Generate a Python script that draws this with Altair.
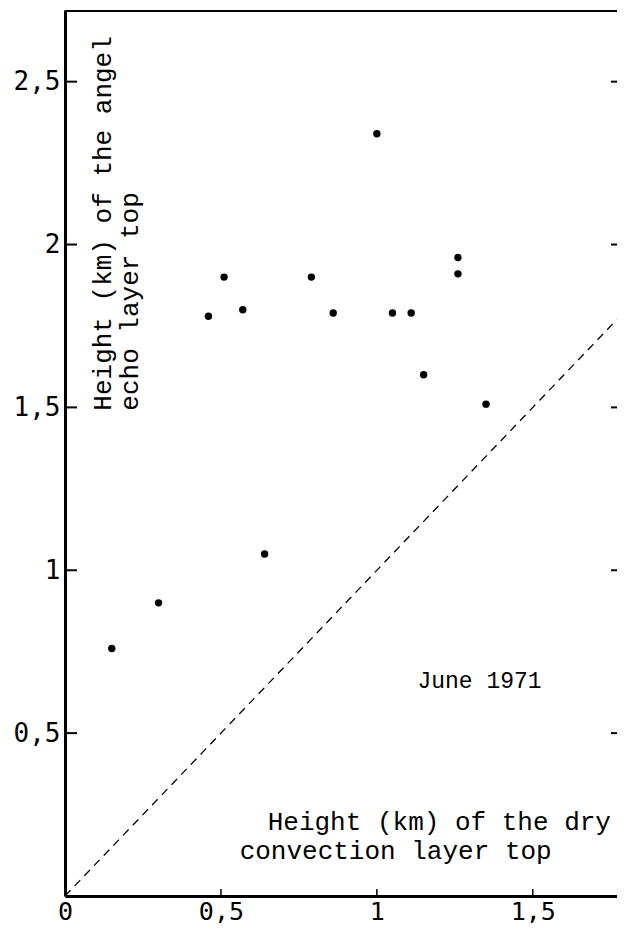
import altair as alt
import pandas as pd

# Data (km)
dry_top = [0.15, 0.30, 0.46, 0.51, 0.57, 0.64, 0.79, 0.86, 1.00, 1.05, 1.11, 1.15, 1.26, 1.26, 1.35]
echo_top = [0.76, 0.90, 1.78, 1.90, 1.80, 1.05, 1.90, 1.79, 2.34, 1.79, 1.79, 1.60, 1.96, 1.91, 1.51]

x_ticks = [0.5, 1.0, 1.5]
y_ticks = [0.5, 1.0, 1.5, 2.0, 2.5]
diag = [0.0, 1.77]

X_DOMAIN = [0, 1.77]
Y_DOMAIN = [0, 2.72]
W, H = 552, 886

xs = alt.Scale(domain=X_DOMAIN, nice=False, zero=False)
ys = alt.Scale(domain=Y_DOMAIN, nice=False, zero=False)

LABEL_FONT = "DejaVu Sans Mono"
TEXT_FONT = "Liberation Mono"
label_expr = "replace(format(datum.value, '~g'), '.', ',')"

pts = pd.DataFrame({"dry": dry_top, "echo": echo_top})

points = alt.Chart(pts).mark_circle(size=55, color="black", opacity=1).encode(
    x=alt.X("dry:Q", scale=xs, title=None,
            axis=alt.Axis(values=[0] + x_ticks, labelExpr=label_expr, ticks=False, grid=False,
                          domainColor="black", domainWidth=3, labelFont=LABEL_FONT,
                          labelFontSize=25, labelColor="black", labelPadding=3,
                          labelFlush=False)),
    y=alt.Y("echo:Q", scale=ys, title=None,
            axis=alt.Axis(values=y_ticks, labelExpr=label_expr, ticks=False, grid=False,
                          domainColor="black", domainWidth=3, labelFont=LABEL_FONT,
                          labelFontSize=26, labelColor="black", labelPadding=5,
                          labelFlush=False)),
)

yt = pd.DataFrame({"v": y_ticks})
xt = pd.DataFrame({"v": x_ticks})

left_ticks = alt.Chart(yt).mark_rule(color="black", strokeWidth=2).encode(
    y=alt.Y("v:Q", scale=ys), x=alt.value(0), x2=alt.value(12))
right_ticks = alt.Chart(yt).mark_rule(color="black", strokeWidth=2).encode(
    y=alt.Y("v:Q", scale=ys), x=alt.value(W - 6), x2=alt.value(W))
bottom_ticks = alt.Chart(xt).mark_rule(color="black", strokeWidth=1.5).encode(
    x=alt.X("v:Q", scale=xs), y=alt.value(H), y2=alt.value(H - 7))
top_border = alt.Chart(yt).mark_rule(color="black", strokeWidth=2).encode(
    x=alt.value(0), x2=alt.value(W), y=alt.value(1))

dg = pd.DataFrame({"d": diag})
diagonal = alt.Chart(dg).mark_line(color="black", strokeWidth=1.3, strokeDash=[8, 6], clip=True).encode(
    x=alt.X("d:Q", scale=xs), y=alt.Y("d:Q", scale=ys))

# annotations
ann = pd.DataFrame({
    "x": [1.13, 0.65, 0.56],
    "y": [0.66, 0.227, 0.138],
    "t": ["June 1971", "Height (km) of the dry", "convection layer top"],
    "s": [23, 26, 26],
})
annot = alt.Chart(ann).mark_text(font=TEXT_FONT, align="left", baseline="middle",
                                 color="black").encode(
    x=alt.X("x:Q", scale=xs), y=alt.Y("y:Q", scale=ys), text="t:N",
    size=alt.Size("s:Q", scale=None, legend=None))

ytitle = pd.DataFrame({
    "x": [0.122, 0.208],
    "y": [1.49, 1.49],
    "t": ["Height (km) of the angel", "echo layer top"],
})
ytitle_marks = alt.Chart(ytitle).mark_text(font=TEXT_FONT, fontSize=26, align="left", baseline="middle",
                                           angle=270, color="black").encode(
    x=alt.X("x:Q", scale=xs), y=alt.Y("y:Q", scale=ys), text="t:N")

chart = alt.layer(
    points, diagonal, top_border, left_ticks, right_ticks, bottom_ticks, annot, ytitle_marks
).properties(
    width=W, height=H,
    autosize=alt.AutoSizeParams(type="none"),
    padding={"left": 57, "top": 2, "right": 0, "bottom": 32},
).configure_view(stroke=None).configure(background="white")

chart.save("out.html", embed_options={"renderer": "svg", "actions": False})
